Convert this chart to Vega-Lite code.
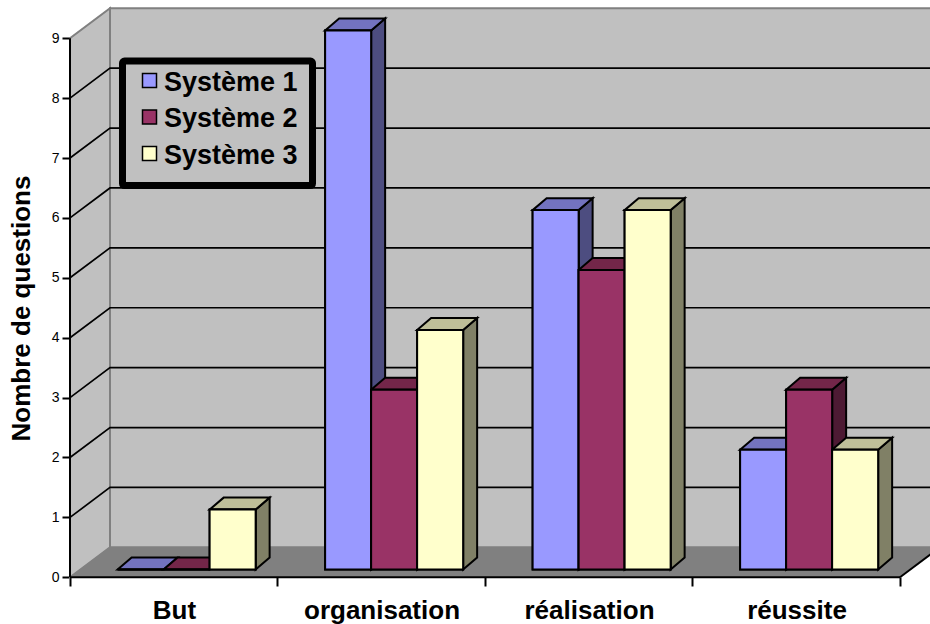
{
  "$schema": "https://vega.github.io/schema/vega-lite/v6.json",
  "width": 930,
  "height": 624,
  "padding": 0,
  "autosize": {"type": "none"},
  "background": "white",
  "config": {
    "view": {"stroke": null},
    "font": "Liberation Sans"
  },
  "data": {"values": [{"frame": "box"}]},
  "datasets": {
    "questions": [
      {"category": "But", "system": "Système 1", "value": 0},
      {"category": "But", "system": "Système 2", "value": 0},
      {"category": "But", "system": "Système 3", "value": 1},
      {"category": "organisation", "system": "Système 1", "value": 9},
      {"category": "organisation", "system": "Système 2", "value": 3},
      {"category": "organisation", "system": "Système 3", "value": 4},
      {"category": "réalisation", "system": "Système 1", "value": 6},
      {"category": "réalisation", "system": "Système 2", "value": 5},
      {"category": "réalisation", "system": "Système 3", "value": 6},
      {"category": "réussite", "system": "Système 1", "value": 2},
      {"category": "réussite", "system": "Système 2", "value": 3},
      {"category": "réussite", "system": "Système 3", "value": 2}
    ],
    "depths": [{"t": 0}, {"t": 1}],
    "levels": [{"level": 1}, {"level": 2}, {"level": 3}, {"level": 4}, {"level": 5}, {"level": 6}, {"level": 7}, {"level": 8}]
  },
  "layer": [
    {
      "description": "Back wall of the 3D box, carries both axes",
      "mark": {"type": "rect", "fill": "#C0C0C0", "stroke": "#808080", "strokeWidth": 2, "clip": true},
      "encoding": {
        "x": {
          "datum": 0.1928, "type": "quantitative",
          "scale": {"domain": [-0.33735, 4.14458], "nice": false, "zero": false},
          "axis": {
            "orient": "bottom", "offset": -47, "title": null, "domain": false, "grid": false,
            "values": [0, 1, 2, 3, 4], "tickSize": 9, "tickWidth": 2, "tickColor": "black",
            "labelExpr": "['But','organisation','réalisation','réussite'][datum.value] || ''",
            "labelOffset": 104, "labelFontSize": 26, "labelFontWeight": "bold", "labelColor": "black",
            "labelFont": "Liberation Sans", "labelPadding": 11, "labelBound": false, "labelFlush": false, "labelOverlap": false
          }
        },
        "x2": {"datum": 4.1928},
        "y": {
          "datum": 0.5, "type": "quantitative",
          "scale": {"domain": [-0.78, 9.638], "nice": false, "zero": false},
          "axis": {
            "orient": "left", "offset": -70, "domain": false, "grid": false, "format": "d",
            "values": [0, 1, 2, 3, 4, 5, 6, 7, 8, 9], "tickSize": 8, "tickWidth": 2, "tickColor": "black",
            "labelFontSize": 14, "labelColor": "black", "labelFont": "Liberation Sans", "labelPadding": 3,
            "title": "Nombre de questions", "titleFont": "Liberation Sans", "titleFontSize": 26, "titleFontWeight": "bold",
            "titleColor": "black", "titleAngle": -90, "titleX": -49, "titleY": 308, "titleAlign": "center", "titleBaseline": "middle"
          }
        },
        "y2": {"datum": 9.5}
      }
    },
    {
      "description": "Left wall",
      "data": {"name": "depths"},
      "transform": [
        {"calculate": "datum.t * 0.1928", "as": "px"},
        {"calculate": "datum.t * 0.5", "as": "py"},
        {"calculate": "9 + datum.t * 0.5", "as": "py2"}
      ],
      "mark": {"type": "area", "orient": "vertical", "fill": "#C0C0C0", "stroke": "#808080", "strokeWidth": 2},
      "encoding": {
        "x": {"field": "px", "type": "quantitative", "scale": {"domain": [-0.33735, 4.14458], "nice": false, "zero": false}},
        "y": {"field": "py", "type": "quantitative", "stack": null, "scale": {"domain": [-0.78, 9.638], "nice": false, "zero": false}},
        "y2": {"field": "py2"}
      }
    },
    {
      "description": "Floor",
      "data": {"name": "depths"},
      "transform": [
        {"calculate": "datum.t * 0.1928", "as": "px"},
        {"calculate": "4 + datum.t * 0.1928", "as": "px2"},
        {"calculate": "datum.t * 0.5", "as": "py"}
      ],
      "mark": {"type": "area", "orient": "horizontal", "fill": "#808080", "clip": true},
      "encoding": {
        "y": {"field": "py", "type": "quantitative", "scale": {"domain": [-0.78, 9.638], "nice": false, "zero": false}},
        "x": {"field": "px", "type": "quantitative", "stack": null, "scale": {"domain": [-0.33735, 4.14458], "nice": false, "zero": false}},
        "x2": {"field": "px2"}
      }
    },
    {
      "description": "Gridlines folded across the left and back walls",
      "data": {"name": "levels"},
      "transform": [
        {"calculate": "[0, 1, 2]", "as": "k"},
        {"flatten": ["k"]},
        {"calculate": "[0, 0.1928, 4.1928][datum.k]", "as": "px"},
        {"calculate": "datum.level + (datum.k > 0 ? 0.5 : 0)", "as": "py"}
      ],
      "mark": {"type": "line", "color": "black", "strokeWidth": 1.7, "clip": true},
      "encoding": {
        "x": {"field": "px", "type": "quantitative", "scale": {"domain": [-0.33735, 4.14458], "nice": false, "zero": false}},
        "y": {"field": "py", "type": "quantitative", "scale": {"domain": [-0.78, 9.638], "nice": false, "zero": false}},
        "detail": {"field": "level"},
        "order": {"field": "k"}
      }
    },
    {
      "description": "Value axis line",
      "mark": {"type": "rule", "color": "black", "strokeWidth": 2},
      "encoding": {
        "x": {"datum": 0, "type": "quantitative", "scale": {"domain": [-0.33735, 4.14458], "nice": false, "zero": false}},
        "y": {"datum": 0, "type": "quantitative", "scale": {"domain": [-0.78, 9.638], "nice": false, "zero": false}},
        "y2": {"datum": 9}
      }
    },
    {
      "description": "Category axis line",
      "mark": {"type": "rule", "color": "black", "strokeWidth": 2},
      "encoding": {
        "y": {"datum": 0, "type": "quantitative", "scale": {"domain": [-0.78, 9.638], "nice": false, "zero": false}},
        "x": {"datum": 0, "type": "quantitative", "scale": {"domain": [-0.33735, 4.14458], "nice": false, "zero": false}},
        "x2": {"datum": 4}
      }
    },
    {
      "description": "Right edge of the floor",
      "mark": {"type": "rule", "color": "black", "strokeWidth": 2, "clip": true},
      "encoding": {
        "x": {"datum": 4, "type": "quantitative", "scale": {"domain": [-0.33735, 4.14458], "nice": false, "zero": false}},
        "x2": {"datum": 4.1928},
        "y": {"datum": 0, "type": "quantitative", "scale": {"domain": [-0.78, 9.638], "nice": false, "zero": false}},
        "y2": {"datum": 0.5}
      }
    },
    {
      "description": "Heavy frame behind the legend entries",
      "mark": {"type": "rect", "fill": "#C0C0C0", "stroke": "black", "strokeWidth": 7, "cornerRadius": 2},
      "encoding": {
        "x": {"datum": 0.253, "type": "quantitative", "scale": {"domain": [-0.33735, 4.14458], "nice": false, "zero": false}},
        "x2": {"datum": 1.1687},
        "y": {"datum": 6.54, "type": "quantitative", "scale": {"domain": [-0.78, 9.638], "nice": false, "zero": false}},
        "y2": {"datum": 8.619}
      }
    },
    {
      "description": "Bars: sides, then tops, then front faces, so nearer faces paint last",
      "data": {"name": "questions"},
      "transform": [
        {"calculate": "indexof(['But','organisation','réalisation','réussite'], datum.category)", "as": "c"},
        {"calculate": "indexof(['Système 1','Système 2','Système 3'], datum.system)", "as": "s"},
        {"calculate": "datum.c + 0.2295 + datum.s * 0.2217", "as": "x0"},
        {"calculate": "datum.x0 + 0.2217", "as": "x1"},
        {"calculate": "0.13", "as": "base"},
        {"calculate": "datum.value + 0.13", "as": "top"},
        {"calculate": "datum.category + '|' + datum.system", "as": "barKey"},
        {"calculate": "[0, 1]", "as": "t"},
        {"flatten": ["t"]},
        {"calculate": "datum.x1 + datum.t * 0.0675", "as": "sideX"},
        {"calculate": "datum.base + datum.t * 0.2", "as": "sideY"},
        {"calculate": "datum.top + datum.t * 0.2", "as": "sideY2"},
        {"calculate": "datum.x0 + datum.t * 0.0675", "as": "topX"},
        {"calculate": "datum.x1 + datum.t * 0.0675", "as": "topX2"}
      ],
      "resolve": {"scale": {"fill": "independent"}},
      "layer": [
        {
          "mark": {"type": "area", "orient": "vertical", "stroke": "black", "strokeWidth": 2},
          "encoding": {
            "x": {"field": "sideX", "type": "quantitative", "scale": {"domain": [-0.33735, 4.14458], "nice": false, "zero": false}},
            "y": {"field": "sideY", "type": "quantitative", "stack": null, "scale": {"domain": [-0.78, 9.638], "nice": false, "zero": false}},
            "y2": {"field": "sideY2"},
            "detail": {"field": "barKey"},
            "fill": {"field": "system", "type": "nominal", "legend": null,
              "scale": {"domain": ["Système 1", "Système 2", "Système 3"], "range": ["#4D4D80", "#4D1A33", "#808066"]}}
          }
        },
        {
          "mark": {"type": "area", "orient": "horizontal", "stroke": "black", "strokeWidth": 2},
          "encoding": {
            "y": {"field": "sideY2", "type": "quantitative", "scale": {"domain": [-0.78, 9.638], "nice": false, "zero": false}},
            "x": {"field": "topX", "type": "quantitative", "stack": null, "scale": {"domain": [-0.33735, 4.14458], "nice": false, "zero": false}},
            "x2": {"field": "topX2"},
            "detail": {"field": "barKey"},
            "fill": {"field": "system", "type": "nominal", "legend": null,
              "scale": {"domain": ["Système 1", "Système 2", "Système 3"], "range": ["#7373BF", "#732649", "#BFBF99"]}}
          }
        },
        {
          "mark": {"type": "rect", "stroke": "black", "strokeWidth": 2},
          "encoding": {
            "x": {"field": "x0", "type": "quantitative", "scale": {"domain": [-0.33735, 4.14458], "nice": false, "zero": false}},
            "x2": {"field": "x1"},
            "y": {"field": "base", "type": "quantitative", "scale": {"domain": [-0.78, 9.638], "nice": false, "zero": false}},
            "y2": {"field": "top"},
            "fill": {
              "field": "system", "type": "nominal",
              "scale": {"domain": ["Système 1", "Système 2", "Système 3"], "range": ["#9999FF", "#993366", "#FFFFCC"]},
              "legend": {
                "title": null, "orient": "none", "legendX": 136, "legendY": 67, "direction": "vertical", "padding": 0,
                "symbolType": "square", "symbolSize": 196, "symbolStrokeColor": "black", "symbolStrokeWidth": 1.5, "symbolOpacity": 1,
                "labelFont": "Liberation Sans", "labelFontSize": 27, "labelFontWeight": "bold", "labelColor": "black",
                "labelOffset": 1, "rowPadding": 7.5, "labelLimit": 300,
                "encode": {"labels": {"update": {"dy": {"value": 2}}}}
              }
            }
          }
        }
      ]
    }
  ]
}
